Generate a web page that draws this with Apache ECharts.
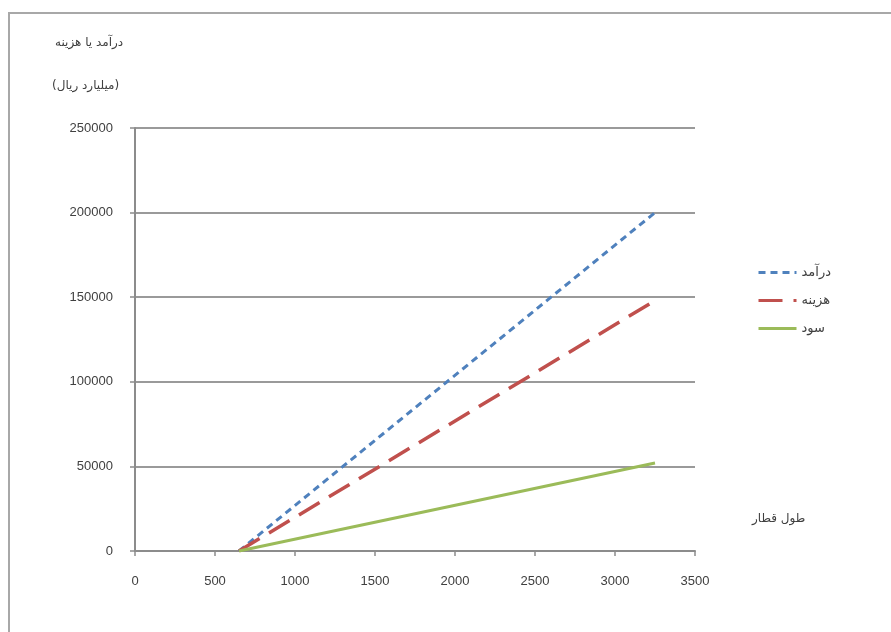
<!DOCTYPE html>
<html>
<head>
<meta charset="utf-8">
<script src="https://cdn.jsdelivr.net/npm/echarts@6/dist/echarts.min.js"></script>
<style>
  html, body { margin: 0; padding: 0; background: #fff; }
  #chart { width: 891px; height: 632px; }
</style>
</head>
<body>
<div id="chart"></div>
<script>
// Train length (x) versus revenue, cost and profit (billion rials)
const seriesNames = ['درآمد', 'هزینه', 'سود'];
const trainLength = [650, 3250];
const revenue = [0, 200000];
const cost = [0, 148000];
const profit = [0, 52000];
const xTicks = [0, 500, 1000, 1500, 2000, 2500, 3000, 3500];
const yTicks = [0, 50000, 100000, 150000, 200000, 250000];

const pairs = (ys) => trainLength.map((x, i) => [x, ys[i]]);

const chart = echarts.init(document.getElementById('chart'));
const axisGray = '#8c8c8c';
const textColor = '#404040';
const numFont = 'Liberation Sans';
const faFont = 'DejaVu Sans';
const plain = (v) => String(v);

chart.setOption({
  animation: false,
  backgroundColor: '#ffffff',
  grid: { left: 135, right: 196, top: 128, bottom: 81 },
  xAxis: {
    type: 'value',
    min: xTicks[0],
    max: xTicks[xTicks.length - 1],
    interval: 500,
    axisLine: { show: true, lineStyle: { color: axisGray, width: 2 } },
    axisTick: { show: true, length: 5, lineStyle: { color: axisGray, width: 1.5 } },
    axisLabel: { color: textColor, fontFamily: numFont, fontSize: 13, margin: 24, formatter: plain },
    splitLine: { show: false }
  },
  yAxis: {
    type: 'value',
    min: yTicks[0],
    max: yTicks[yTicks.length - 1],
    interval: 50000,
    axisLine: { show: true, lineStyle: { color: axisGray, width: 2 } },
    axisTick: { show: true, length: 5, lineStyle: { color: axisGray, width: 1.5 } },
    axisLabel: { color: textColor, fontFamily: numFont, fontSize: 13, margin: 22, formatter: plain },
    splitLine: { show: true, lineStyle: { color: '#9a9a9a', width: 2 } }
  },
  legend: {
    orient: 'vertical',
    left: 752,
    top: 261,
    itemWidth: 38,
    itemHeight: 12,
    itemGap: 15,
    itemStyle: { opacity: 0 },
    lineStyle: { width: 3 },
    textStyle: { color: textColor, fontFamily: faFont, fontSize: 13 },
    data: seriesNames
  },
  series: [
    {
      name: seriesNames[0], type: 'line', data: pairs(revenue),
      symbol: 'none', color: '#4f81bd',
      lineStyle: { color: '#4f81bd', width: 3, type: [7, 5] }
    },
    {
      name: seriesNames[1], type: 'line', data: pairs(cost),
      symbol: 'none', color: '#c0504d',
      lineStyle: { color: '#c0504d', width: 3.5, type: [24, 11] }
    },
    {
      name: seriesNames[2], type: 'line', data: pairs(profit),
      symbol: 'none', color: '#9bbb59',
      lineStyle: { color: '#9bbb59', width: 3 }
    }
  ],
  graphic: [
    {
      type: 'rect', silent: true, z: -1,
      shape: { x: 9, y: 13, width: 900, height: 640 },
      style: { fill: 'none', stroke: '#a8a8a8', lineWidth: 2 }
    },
    {
      type: 'text', left: 55, top: 37,
      style: { text: 'درآمد یا هزینه', fill: textColor, font: '12px "DejaVu Sans"' }
    },
    {
      type: 'text', left: 52, top: 80,
      style: { text: '(میلیارد ریال)', fill: textColor, font: '12px "DejaVu Sans"' }
    },
    {
      type: 'text', left: 752, top: 513,
      style: { text: 'طول قطار', fill: textColor, font: '12px "DejaVu Sans"' }
    }
  ]
});
</script>
</body>
</html>
